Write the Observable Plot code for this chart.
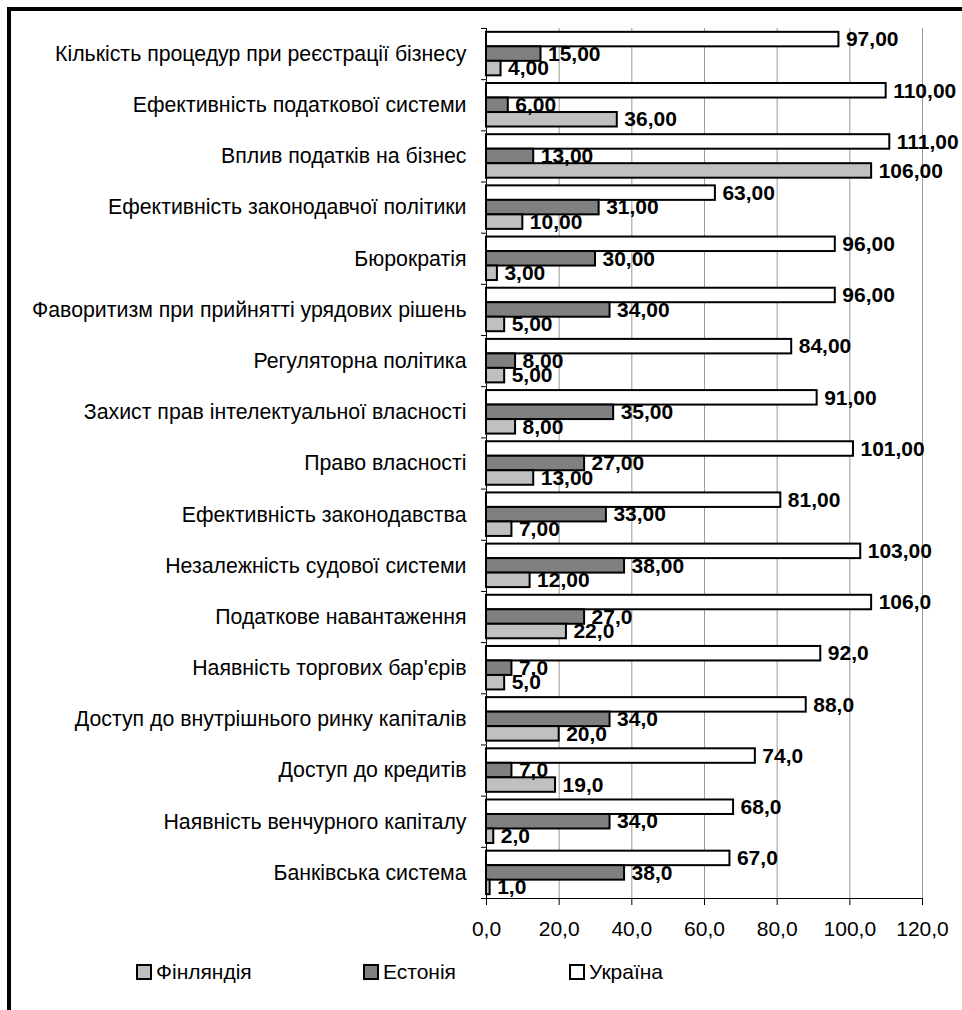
<!DOCTYPE html>
<html><head><meta charset="utf-8">
<script src="https://cdn.jsdelivr.net/npm/d3@7"></script>
<script src="https://cdn.jsdelivr.net/npm/@observablehq/plot@0.6"></script>
<style>
html,body{margin:0;padding:0;background:#fff;overflow:hidden;width:962px;height:1010px}
#border{position:absolute;left:7px;top:7px;width:1200px;height:1200px;border:4px solid #000;box-sizing:border-box}
#chart{position:absolute;left:0;top:0}
#legend{position:absolute;top:960px;left:0;width:962px;height:26px;font-family:Arial,"Liberation Sans",sans-serif;font-size:21px;color:#000}
.item{position:absolute;top:0;display:flex;align-items:center;gap:4px;line-height:24px}
.sw{width:12px;height:12px;border:2px solid #000}
</style></head><body>
<div id="border"></div>
<div id="chart"></div>
<div id="legend"></div>
<script>
const categories = [
  "Кількість процедур при реєстрації бізнесу",
  "Ефективність податкової системи",
  "Вплив податків на бізнес",
  "Ефективність законодавчої політики",
  "Бюрократія",
  "Фаворитизм при прийнятті урядових рішень",
  "Регуляторна політика",
  "Захист прав інтелектуальної власності",
  "Право власності",
  "Ефективність законодавства",
  "Незалежність судової системи",
  "Податкове навантаження",
  "Наявність торгових бар'єрів",
  "Доступ до внутрішнього ринку капіталів",
  "Доступ до кредитів",
  "Наявність венчурного капіталу",
  "Банківська система"
];
const ukraine = [97, 110, 111, 63, 96, 96, 84, 91, 101, 81, 103, 106, 92, 88, 74, 68, 67];
const estonia = [15, 6, 13, 31, 30, 34, 8, 35, 27, 33, 38, 27, 7, 34, 7, 34, 38];
const finland = [4, 36, 106, 10, 3, 5, 5, 8, 13, 7, 12, 22, 5, 20, 19, 2, 1];
const labelDecimals = [2, 2, 2, 2, 2, 2, 2, 2, 2, 2, 2, 1, 1, 1, 1, 1, 1];
const seriesNames = ["Україна", "Естонія", "Фінляндія"];
const seriesColors = ["#ffffff", "#808080", "#c0c0c0"];
const legendOrder = ["Фінляндія", "Естонія", "Україна"];
const legendLeft = [136, 363, 569];
const xTicks = [0, 20, 40, 60, 80, 100, 120];

const seriesValues = [ukraine, estonia, finland];
const rows = [];
categories.forEach((c, i) => {
  seriesValues.forEach((arr, j) => {
    rows.push({category: c, series: seriesNames[j], value: arr[i],
      label: arr[i].toFixed(labelDecimals[i]).replace(".", ",")});
  });
});
const fmtTick = d => d.toFixed(1).replace(".", ",");
const lastCat = categories[categories.length - 1];

const chart = Plot.plot({
  width: 962, height: 950,
  marginLeft: 486, marginRight: 40, marginTop: 28, marginBottom: 52,
  style: {fontFamily: "Arial, 'Liberation Sans', sans-serif", fontSize: "21px", color: "#000", background: "transparent", overflow: "visible"},
  x: {domain: [0, 120], ticks: xTicks},
  y: {domain: seriesNames, paddingInner: 0, paddingOuter: 0.265, round: false, axis: null},
  fy: {domain: categories, padding: 0, round: false},
  color: {domain: seriesNames, range: seriesColors},
  marks: [
    Plot.gridX(xTicks.slice(1), {stroke: "#999999", strokeOpacity: 1, strokeWidth: 1}),
    Plot.ruleX([0], {stroke: "#000", strokeWidth: 1}),
    Plot.barX(rows, {fy: "category", y: "series", x: "value", fill: "series", stroke: "#000", strokeWidth: 2}),
    Plot.text(rows, {fy: "category", y: "series", x: "value", text: "label", textAnchor: "start", dx: 7, fontWeight: "bold", fontSize: 21, fill: "#000"}),
    Plot.axisFy({anchor: "left", tickSize: 0, tickPadding: 20, label: null, fontSize: 21.3}),
    Plot.axisFy({anchor: "left", tickSize: 5, tickFormat: () => "", label: null, dy: -25.6}),
    Plot.frame({anchor: "bottom", fy: () => lastCat, insetLeft: -5, stroke: "#000"}),
    Plot.axisX({ticks: xTicks, tickSize: 7, tickPadding: 16, tickFormat: fmtTick, label: null, fontSize: 21})
  ]
});
document.getElementById("chart").appendChild(chart);

const legend = document.getElementById("legend");
legendOrder.forEach((name, k) => {
  const item = document.createElement("div");
  item.className = "item";
  item.style.left = legendLeft[k] + "px";
  const sw = document.createElement("div");
  sw.className = "sw";
  sw.style.background = seriesColors[seriesNames.indexOf(name)];
  const t = document.createElement("span");
  t.textContent = name;
  item.appendChild(sw);
  item.appendChild(t);
  legend.appendChild(item);
});
</script>
</body></html>
